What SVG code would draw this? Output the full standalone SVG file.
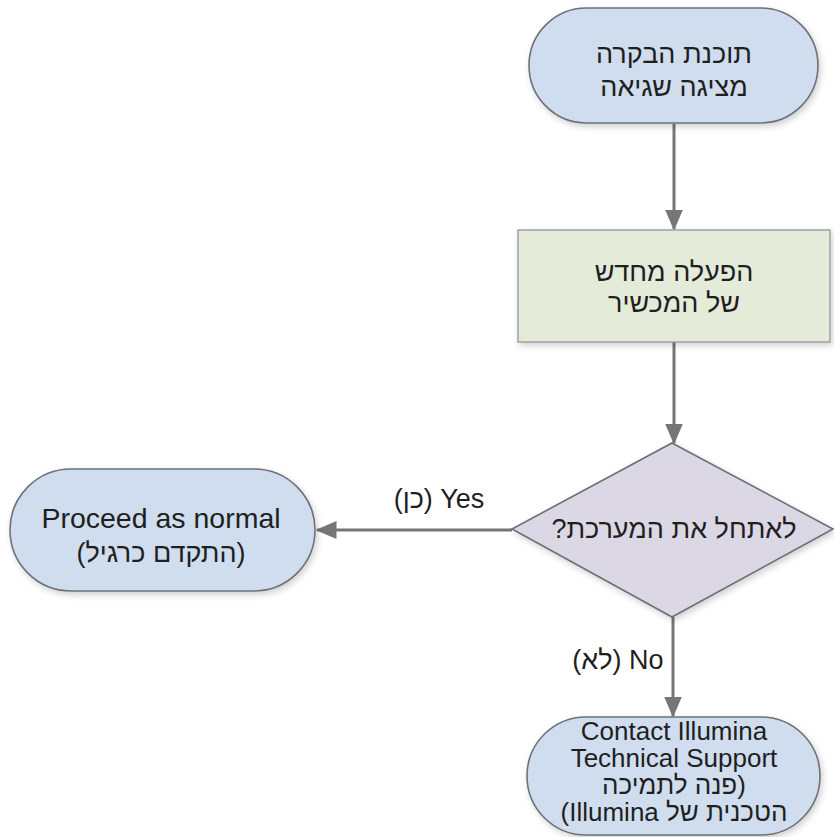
<svg xmlns="http://www.w3.org/2000/svg" width="834" height="837" viewBox="0 0 834 837">
<style>
  .bg { fill: #ffffff; }
  .term { fill: #cfddee; stroke: #6d7279; stroke-width: 1.6; }
  .proc { fill: #e4ebd9; stroke: #9b9e99; stroke-width: 1.4; }
  .dec { fill: #dcd7e5; stroke: #6e6e74; stroke-width: 1.6; }
  .t { font-family: "Liberation Sans", "Noto Sans", Arial, sans-serif; fill: #1f1f1f; text-anchor: middle; }
  .big { font-size: 27px; }
  .lat { font-size: 28.5px; }
  .mid { font-size: 26px; }
  .lbl { font-size: 27px; }
  .conn { stroke: #767676; stroke-width: 3; fill: none; }
</style>
<defs>
  <filter id="sh" x="-10%" y="-10%" width="125%" height="130%">
    <feDropShadow dx="2" dy="3" stdDeviation="3" flood-color="#000" flood-opacity="0.18"/>
  </filter>
  <marker id="ah" markerWidth="7" markerHeight="6" refX="6.5" refY="3" orient="auto" markerUnits="strokeWidth">
    <path d="M0,0 L7,3 L0,6 Z" fill="#767676"/>
  </marker>
</defs>
<rect class="bg" x="0" y="0" width="834" height="837"/>

<g id="connectors">
  <line class="conn" x1="674" y1="124" x2="674" y2="229" marker-end="url(#ah)"/>
  <line class="conn" x1="674" y1="342" x2="674" y2="443" marker-end="url(#ah)"/>
  <line class="conn" x1="512" y1="530" x2="317" y2="530" marker-end="url(#ah)"/>
  <line class="conn" x1="673" y1="617" x2="673" y2="716" marker-end="url(#ah)"/>
  <text class="t lbl" x="439" y="508" direction="rtl">Yes (כן)</text>
  <text class="t lbl" x="618" y="669" direction="rtl">No (לא)</text>
</g>

<g id="start">
  <rect class="term" x="529" y="8" width="289" height="115" rx="57.5" ry="57.5" filter="url(#sh)"/>
  <text class="t big" x="674" y="63" direction="rtl">תוכנת הבקרה</text>
  <text class="t big" x="674" y="96" direction="rtl">מציגה שגיאה</text>
</g>

<g id="restart">
  <rect class="proc" x="518" y="230" width="312" height="112" filter="url(#sh)"/>
  <text class="t big" x="674" y="281" direction="rtl">הפעלה מחדש</text>
  <text class="t big" x="674" y="312" direction="rtl">של המכשיר</text>
</g>

<g id="decision">
  <polygon class="dec" points="672,443 833,529 672,617 512,529" filter="url(#sh)"/>
  <text class="t big" x="674" y="538" direction="rtl">לאתחל את המערכת?</text>
</g>

<g id="proceed">
  <rect class="term" x="10" y="469" width="305" height="122" rx="61" ry="61" filter="url(#sh)"/>
  <text class="t lat" x="161" y="528">Proceed as normal</text>
  <text class="t big" x="161" y="562" direction="rtl">(התקדם כרגיל)</text>
</g>

<g id="contact">
  <rect class="term" x="527" y="717" width="293" height="118" rx="59" ry="59" filter="url(#sh)"/>
  <text class="t mid" x="674" y="740">Contact Illumina</text>
  <text class="t mid" x="674" y="767">Technical Support</text>
  <text class="t mid" x="674" y="794" direction="rtl">(פנה לתמיכה</text>
  <text class="t mid" x="674" y="821" direction="rtl">הטכנית של Illumina)</text>
</g>
</svg>
